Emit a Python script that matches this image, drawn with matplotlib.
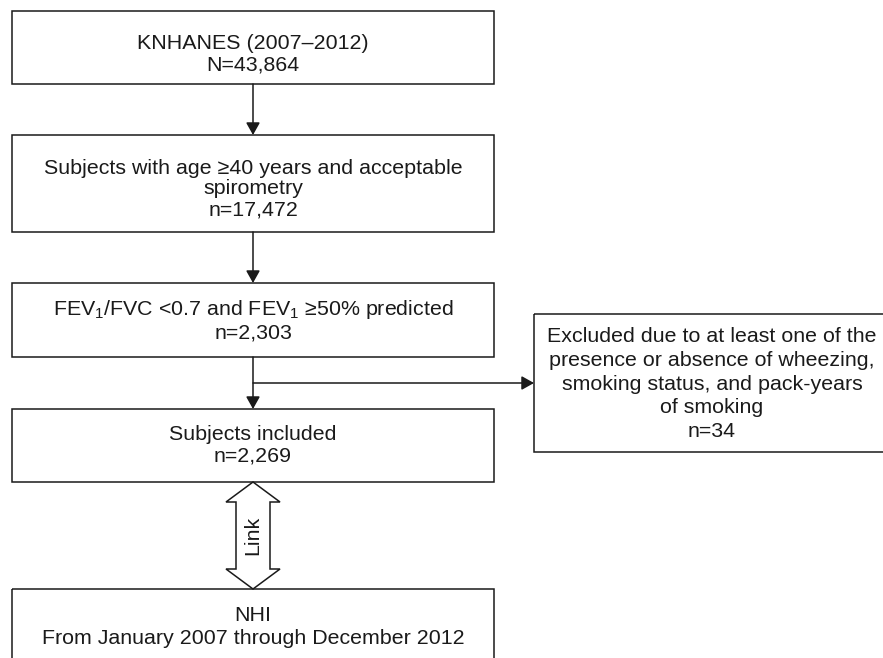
import matplotlib
matplotlib.use("Agg")
import matplotlib.pyplot as plt
from matplotlib.patches import Rectangle, Polygon

plt.rcParams['font.family'] = ['Liberation Sans', 'DejaVu Sans']
plt.rcParams['mathtext.fontset'] = 'custom'
plt.rcParams['mathtext.rm'] = 'Liberation Sans'
plt.rcParams['mathtext.default'] = 'regular'

# ---- content ----
box_texts = [
    "KNHANES (2007\u20132012)\nN=43,864",
    "Subjects with age \u226540 years and acceptable\nspirometry\nn=17,472",
    "FEV$_1$/FVC <0.7 and FEV$_1$ \u226550% predicted\nn=2,303",
    "Subjects included\nn=2,269",
    "NHI\nFrom January 2007 through December 2012",
]
excluded_text = ("Excluded due to at least one of the\n"
                 "presence or absence of wheezing,\n"
                 "smoking status, and pack-years\n"
                 "of smoking\nn=34")
link_label = "Link"

# ---- layout (pixel coordinates, y downward) ----
W, H = 883, 658
main_left, main_right = 12, 494
main_boxes = [(11, 84), (135, 232), (283, 357), (409, 482), (589, 665)]
text_y = [54, 189, 320, 445, 627]
text_ls = [1.15, 1.1, 1.15, 1.15, 1.3]
excl_box = (534, 314, 891, 452)
branch_y = 383
cx = (main_left + main_right) / 2

fs = 15.4
col = '#1a1a1a'
lw = 1.1

fig = plt.figure(figsize=(W / 100, H / 100), dpi=100)
ax = fig.add_axes([0, 0, 1, 1])
ax.set_xlim(0, W)
ax.set_ylim(H, 0)
ax.axis('off')

for (top, bot), txt, ty, ls in zip(main_boxes, box_texts, text_y, text_ls):
    ax.add_patch(Rectangle((main_left, top), main_right - main_left, bot - top,
                           fill=False, ec=col, lw=lw))
    ax.text(cx, ty, txt, ha='center', va='center', fontsize=fs,
            color=col, linespacing=ls)

# excluded box
ex0, ey0, ex1, ey1 = excl_box
ax.add_patch(Rectangle((ex0, ey0), ex1 - ex0, ey1 - ey0, fill=False, ec=col, lw=lw,
                       clip_on=True))
ax.text(712, 384, excluded_text, ha='center', va='center',
        fontsize=fs, color=col, linespacing=1.32)

arrow_kw = dict(arrowstyle='-|>,head_length=0.75,head_width=0.42', color=col,
                lw=lw, shrinkA=0, shrinkB=0, mutation_scale=10)

# vertical arrows between first four boxes
for i in range(3):
    ax.annotate('', xy=(cx, main_boxes[i + 1][0]), xytext=(cx, main_boxes[i][1]),
                arrowprops=arrow_kw)

# branch arrow to excluded box
ax.annotate('', xy=(ex0, branch_y), xytext=(cx, branch_y), arrowprops=arrow_kw)

# double-headed "Link" arrow
top_tip = main_boxes[3][1]
bot_tip = main_boxes[4][0]
hh, sw, hw = 20, 17, 27
pts = [(cx, top_tip), (cx + hw, top_tip + hh), (cx + sw, top_tip + hh),
       (cx + sw, bot_tip - hh), (cx + hw, bot_tip - hh), (cx, bot_tip),
       (cx - hw, bot_tip - hh), (cx - sw, bot_tip - hh), (cx - sw, top_tip + hh),
       (cx - hw, top_tip + hh)]
ax.add_patch(Polygon(pts, closed=True, fc='white', ec=col, lw=lw))
ax.text(cx, (top_tip + bot_tip) / 2, link_label, rotation=90, ha='center',
        va='center', fontsize=fs, color=col)

fig.savefig('out.png', dpi=100)
